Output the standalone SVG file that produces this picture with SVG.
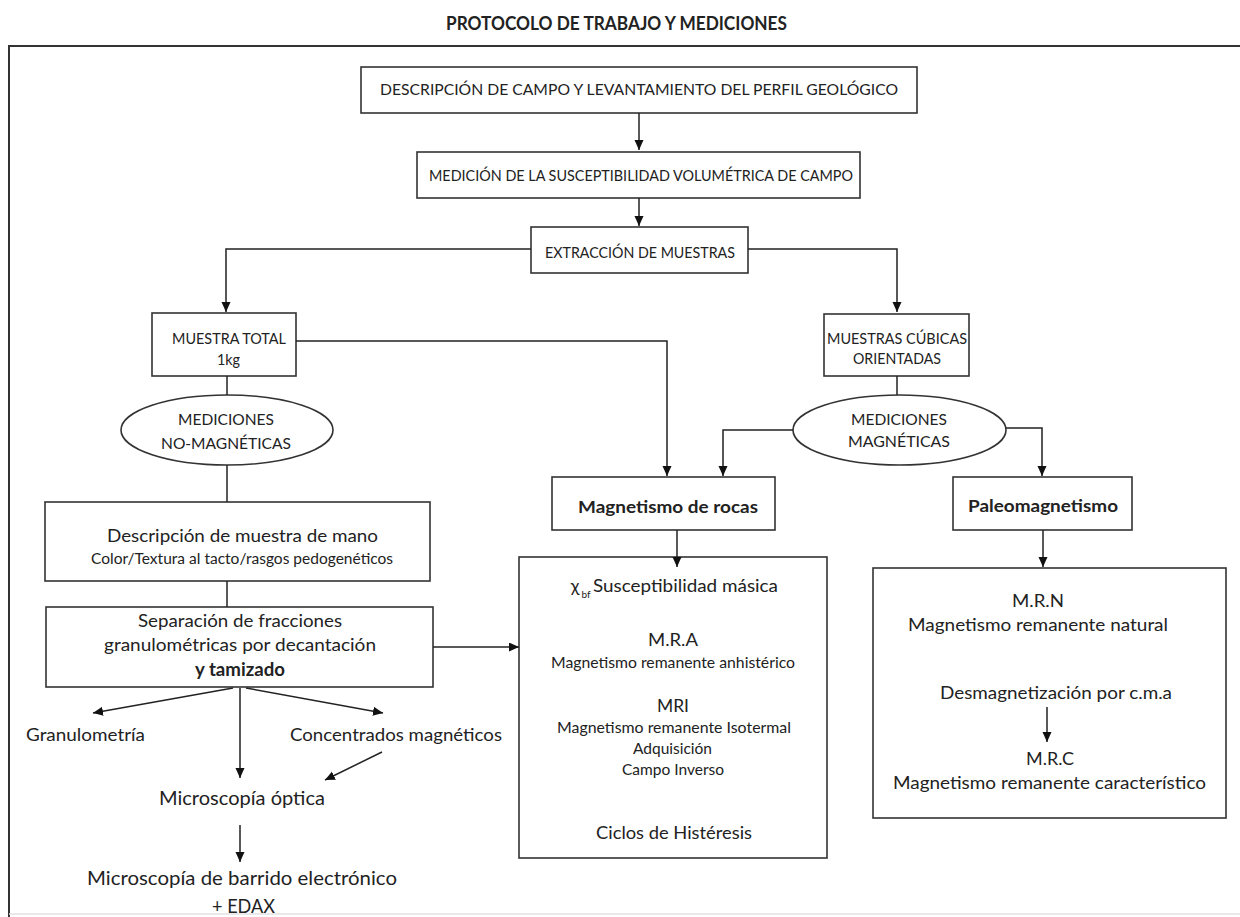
<svg xmlns="http://www.w3.org/2000/svg" width="1240" height="917" viewBox="0 0 1240 917">
<style>
text{font-family:Lato,"Liberation Sans",Arial,sans-serif;fill:#222;text-anchor:middle}
.cap{font-size:16px}
.m18{font-size:18px}
.m15{font-size:15px}
.b{font-weight:bold}
.box{fill:#fff;stroke:#333;stroke-width:1.6}
.ln{fill:none;stroke:#222;stroke-width:1.5}
.ar{fill:none;stroke:#222;stroke-width:1.5;marker-end:url(#ah)}
</style>
<defs>
<marker id="ah" markerUnits="userSpaceOnUse" markerWidth="10" markerHeight="10" refX="10" refY="4.5" orient="auto">
<path d="M0,0 L10,4.5 L0,9 z" fill="#111"/>
</marker>
</defs>
<rect width="1240" height="917" fill="#fff"/>
<g id="title">
<text x="616.5" y="29.5" class="b" font-size="18" textLength="341" lengthAdjust="spacingAndGlyphs">PROTOCOLO DE TRABAJO Y MEDICIONES</text>
</g>
<g id="frame">
<path d="M9,917 V46 H1240" fill="none" stroke="#333" stroke-width="2"/>
<line x1="9" y1="914" x2="1240" y2="914" stroke="#e2e2e2" stroke-width="1.5"/>
</g>
<g id="n-descripcion-campo">
<rect class="box" x="361" y="67" width="556" height="46"/>
<text class="cap" x="639" y="95" textLength="518" lengthAdjust="spacingAndGlyphs">DESCRIPCIÓN DE CAMPO Y LEVANTAMIENTO DEL PERFIL GEOLÓGICO</text>
</g>
<g id="n-susceptibilidad">
<rect class="box" x="417" y="152" width="443" height="46"/>
<text class="cap" x="641" y="181" textLength="424" lengthAdjust="spacingAndGlyphs">MEDICIÓN DE LA SUSCEPTIBILIDAD VOLUMÉTRICA DE CAMPO</text>
</g>
<g id="n-extraccion">
<rect class="box" x="531" y="227" width="217" height="46"/>
<text class="cap" x="640" y="258" textLength="190" lengthAdjust="spacingAndGlyphs">EXTRACCIÓN DE MUESTRAS</text>
</g>
<g id="n-muestra-total">
<rect class="box" x="152" y="313" width="144" height="63"/>
<text class="cap" x="229" y="344" textLength="114" lengthAdjust="spacingAndGlyphs">MUESTRA TOTAL</text>
<text class="cap" x="228.5" y="365" textLength="23" lengthAdjust="spacingAndGlyphs">1kg</text>
</g>
<g id="n-muestras-cubicas">
<rect class="box" x="824" y="314" width="145" height="62"/>
<text class="cap" x="897" y="344" textLength="140" lengthAdjust="spacingAndGlyphs">MUESTRAS CÚBICAS</text>
<text class="cap" x="897" y="364" textLength="88" lengthAdjust="spacingAndGlyphs">ORIENTADAS</text>
</g>
<g id="n-no-magneticas">
<ellipse class="box" cx="227" cy="430" rx="106" ry="35"/>
<text class="cap" x="226" y="425" textLength="96" lengthAdjust="spacingAndGlyphs">MEDICIONES</text>
<text class="cap" x="226" y="449" textLength="130" lengthAdjust="spacingAndGlyphs">NO-MAGNÉTICAS</text>
</g>
<g id="n-magneticas">
<ellipse class="box" cx="899.5" cy="430" rx="106.5" ry="35"/>
<text class="cap" x="899" y="425" textLength="96" lengthAdjust="spacingAndGlyphs">MEDICIONES</text>
<text class="cap" x="899" y="447" textLength="102" lengthAdjust="spacingAndGlyphs">MAGNÉTICAS</text>
</g>
<g id="n-descripcion-mano">
<rect class="box" x="45" y="502" width="385" height="79"/>
<text class="m18" x="242.5" y="542" textLength="271" lengthAdjust="spacingAndGlyphs">Descripción de muestra de mano</text>
<text x="242" y="564" font-size="14.5" textLength="302" lengthAdjust="spacingAndGlyphs">Color/Textura al tacto/rasgos pedogenéticos</text>
</g>
<g id="n-separacion">
<rect class="box" x="46" y="607" width="387" height="80"/>
<text class="m18" x="240" y="627" textLength="204" lengthAdjust="spacingAndGlyphs">Separación de fracciones</text>
<text class="m18" x="240" y="651" textLength="272" lengthAdjust="spacingAndGlyphs">granulométricas por decantación</text>
<text class="m18 b" x="240" y="676" textLength="90" lengthAdjust="spacingAndGlyphs">y tamizado</text>
</g>
<g id="n-granulometria">
<text class="m18" x="85.5" y="741" textLength="119" lengthAdjust="spacingAndGlyphs">Granulometría</text>
</g>
<g id="n-concentrados">
<text class="m18" x="396" y="741" textLength="212" lengthAdjust="spacingAndGlyphs">Concentrados magnéticos</text>
</g>
<g id="n-microscopia-optica">
<text x="242" y="805" font-size="19" textLength="166" lengthAdjust="spacingAndGlyphs">Microscopía óptica</text>
</g>
<g id="n-microscopia-barrido">
<text x="242" y="885" font-size="19" textLength="310" lengthAdjust="spacingAndGlyphs">Microscopía de barrido electrónico</text>
<text x="243.5" y="913" font-size="19" textLength="63" lengthAdjust="spacingAndGlyphs">+ EDAX</text>
</g>
<g id="n-magnetismo-rocas">
<rect class="box" x="552" y="477" width="223" height="53"/>
<text class="b" x="668" y="513" font-size="17" textLength="180" lengthAdjust="spacingAndGlyphs">Magnetismo de rocas</text>
</g>
<g id="n-paleomagnetismo">
<rect class="box" x="953" y="477" width="179" height="53"/>
<text class="b" x="1043" y="512" font-size="17" textLength="150" lengthAdjust="spacingAndGlyphs">Paleomagnetismo</text>
</g>
<g id="n-rocas-detalle">
<rect class="box" x="519" y="557" width="308" height="301"/>
<text class="m18" x="575" y="592">χ</text>
<text x="586" y="598" font-size="10">bf</text>
<text class="m18" x="685.5" y="592" textLength="185" lengthAdjust="spacingAndGlyphs">Susceptibilidad másica</text>
<text class="m18" x="673" y="646" textLength="50" lengthAdjust="spacingAndGlyphs">M.R.A</text>
<text class="m15" x="673" y="668" textLength="244" lengthAdjust="spacingAndGlyphs">Magnetismo remanente anhistérico</text>
<text class="m18" x="673" y="712" textLength="32" lengthAdjust="spacingAndGlyphs">MRI</text>
<text class="m15" x="674" y="733" textLength="234" lengthAdjust="spacingAndGlyphs">Magnetismo remanente Isotermal</text>
<text class="m15" x="672.5" y="754" textLength="79" lengthAdjust="spacingAndGlyphs">Adquisición</text>
<text class="m15" x="673" y="775" textLength="102" lengthAdjust="spacingAndGlyphs">Campo Inverso</text>
<text class="m18" x="674" y="839" textLength="156" lengthAdjust="spacingAndGlyphs">Ciclos de Histéresis</text>
</g>
<g id="n-paleo-detalle">
<rect class="box" x="873" y="568" width="353" height="250"/>
<text class="m18" x="1038" y="607" textLength="52" lengthAdjust="spacingAndGlyphs">M.R.N</text>
<text class="m18" x="1038" y="631" textLength="260" lengthAdjust="spacingAndGlyphs">Magnetismo remanente natural</text>
<text class="m18" x="1056" y="699" textLength="232" lengthAdjust="spacingAndGlyphs">Desmagnetización por c.m.a</text>
<text class="m18" x="1050" y="765" textLength="48" lengthAdjust="spacingAndGlyphs">M.R.C</text>
<text class="m18" x="1049.5" y="789" textLength="313" lengthAdjust="spacingAndGlyphs">Magnetismo remanente característico</text>
</g>
<g id="connectors">
<line class="ar" x1="639" y1="113" x2="639" y2="150"/>
<line class="ar" x1="639" y1="198" x2="639" y2="226"/>
<polyline class="ar" points="531,249 226,249 226,312"/>
<polyline class="ar" points="748,249 897,249 897,312"/>
<line class="ln" x1="227" y1="376" x2="227" y2="395"/>
<line class="ln" x1="227" y1="465" x2="227" y2="502"/>
<line class="ln" x1="227" y1="581" x2="227" y2="607"/>
<polyline class="ar" points="296,341 667,341 667,476"/>
<line class="ln" x1="897" y1="376" x2="897" y2="395"/>
<polyline class="ar" points="793,430 723,430 723,476"/>
<polyline class="ar" points="1006,428 1042,428 1042,476"/>
<line class="ar" x1="677" y1="530" x2="677" y2="567"/>
<line class="ar" x1="1043" y1="530" x2="1043" y2="567"/>
<line class="ar" x1="433" y1="647" x2="519" y2="647"/>
<line class="ar" x1="233" y1="688" x2="93" y2="713"/>
<line class="ar" x1="240" y1="688" x2="240" y2="778"/>
<line class="ar" x1="246" y1="688" x2="383" y2="713"/>
<line class="ar" x1="382" y1="752" x2="325" y2="780"/>
<line class="ar" x1="240" y1="825" x2="240" y2="862"/>
<line class="ar" x1="1047" y1="707" x2="1047" y2="742"/>
</g>
</svg>
